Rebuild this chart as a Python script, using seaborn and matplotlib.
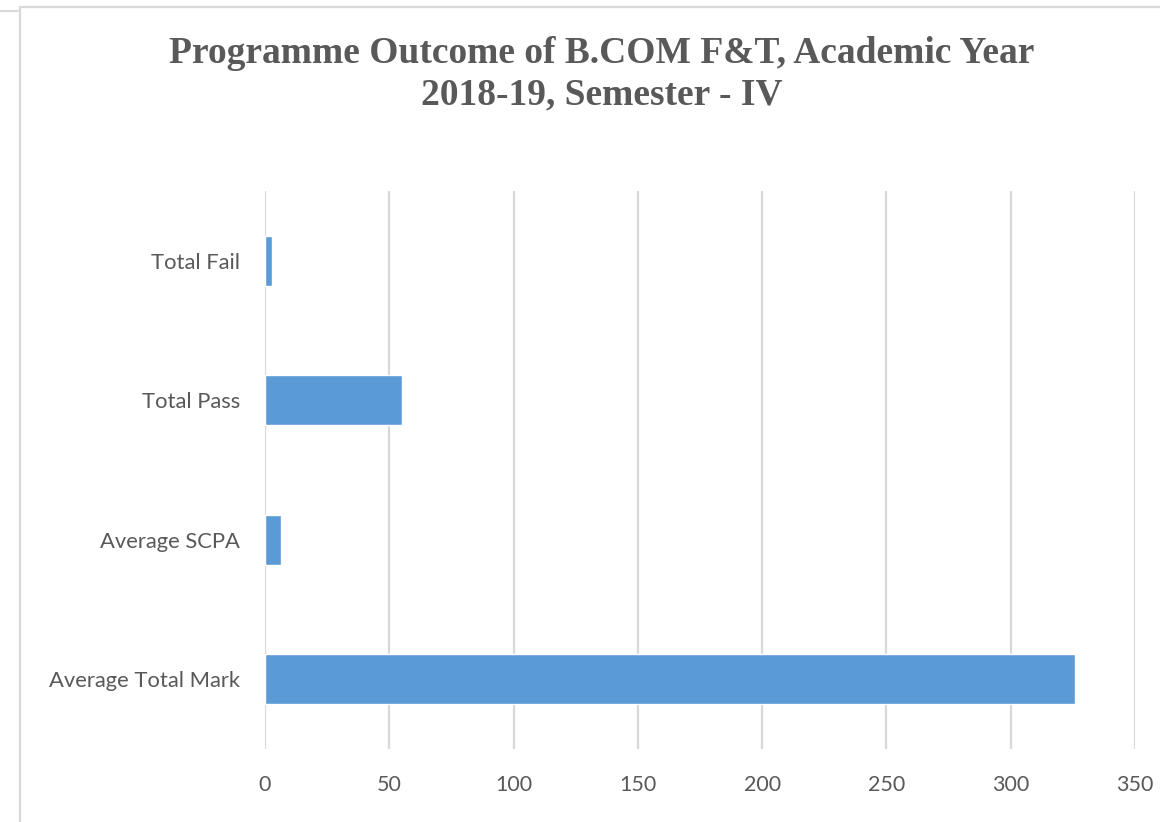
import matplotlib
matplotlib.use("Agg")
import matplotlib.pyplot as plt
import seaborn as sns
import pandas as pd
from matplotlib.patches import Rectangle
from matplotlib.lines import Line2D

categories = ["Total Fail", "Total Pass", "Average SCPA", "Average Total Mark"]
values = [3, 55, 6.6, 326]
x_ticks = [0, 50, 100, 150, 200, 250, 300, 350]
title = "Programme Outcome of B.COM F&T, Academic Year\n2018-19, Semester - IV"

df = pd.DataFrame({"category": categories, "value": values})

sns.set_theme(style="white")
plt.rcParams["font.family"] = ["Lato", "DejaVu Sans"]

W, H = 1160, 822
fig = plt.figure(figsize=(W / 100, H / 100), dpi=100)
fig.patch.set_facecolor("white")

# plot area in pixel terms
left, right, top, bottom = 265, 1135, 191, 749
ax = fig.add_axes([left / W, 1 - bottom / H, (right - left) / W, (bottom - top) / H])

sns.barplot(data=df, x="value", y="category", order=categories,
            color="#5B9BD5", saturation=1, width=0.355, ax=ax, zorder=3)

ax.set_xlim(0, 350)
ax.set_ylim(3.5, -0.5)
ax.set_xticks(x_ticks)
ax.set_xticklabels([str(t) for t in x_ticks])
ax.xaxis.grid(True, color="#D9D9D9", linewidth=1.6, zorder=0)
ax.yaxis.grid(False)
for s in ax.spines.values():
    s.set_visible(False)
ax.set_xlabel("")
ax.set_ylabel("")
ax.tick_params(axis="x", length=0, pad=19, labelsize=15.5, labelcolor="#595959")
ax.tick_params(axis="y", length=0, pad=18, labelsize=15.8, labelcolor="#595959")

fig.text(602 / W, 1 - 74 / H, title, ha="center", va="center",
         fontsize=27, fontweight="bold", color="#595959",
         family=["Liberation Serif", "DejaVu Serif"], linespacing=1.25)

# chart frame
fig.add_artist(Rectangle((20 / W, -0.05), 1.2, 1 - 7 / H + 0.05,
                         transform=fig.transFigure, fill=False,
                         edgecolor="#D9D9D9", linewidth=1.6))
fig.add_artist(Line2D([0, 18 / W], [1 - 11 / H, 1 - 11 / H],
                      transform=fig.transFigure, color="#D9D9D9", linewidth=1.6))

fig.savefig("out.png", dpi=100, facecolor="white")
